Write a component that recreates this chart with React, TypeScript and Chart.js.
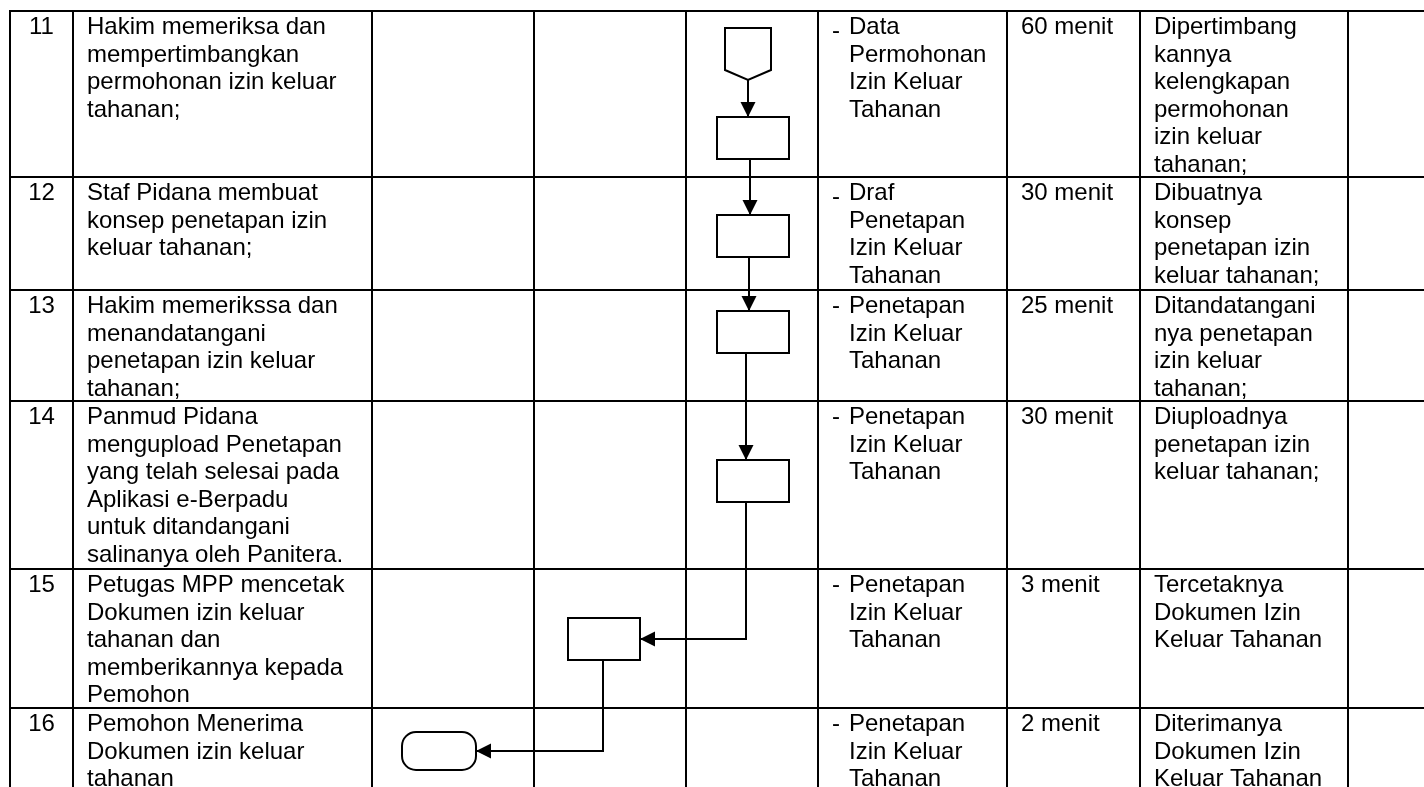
import React, { useEffect, useRef } from "react";
import { Chart, registerables } from "chart.js";

Chart.register(...registerables);

// ---------------- data ----------------
const stepNumbers = ["11", "12", "13", "14", "15", "16"];

const activityLines = [
  ["Hakim memeriksa dan", "mempertimbangkan", "permohonan izin keluar", "tahanan;"],
  ["Staf Pidana membuat", "konsep penetapan izin", "keluar tahanan;"],
  ["Hakim memerikssa dan", "menandatangani", "penetapan izin keluar", "tahanan;"],
  [
    "Panmud Pidana",
    "mengupload Penetapan",
    "yang telah selesai pada",
    "Aplikasi e-Berpadu",
    "untuk ditandangani",
    "salinanya oleh Panitera.",
  ],
  ["Petugas MPP mencetak", "Dokumen izin keluar", "tahanan dan", "memberikannya kepada", "Pemohon"],
  ["Pemohon Menerima", "Dokumen izin keluar", "tahanan"],
];

const requirementLines = [
  ["Data", "Permohonan", "Izin Keluar", "Tahanan"],
  ["Draf", "Penetapan", "Izin Keluar", "Tahanan"],
  ["Penetapan", "Izin Keluar", "Tahanan"],
  ["Penetapan", "Izin Keluar", "Tahanan"],
  ["Penetapan", "Izin Keluar", "Tahanan"],
  ["Penetapan", "Izin Keluar", "Tahanan"],
];

const durationLabels = ["60 menit", "30 menit", "25 menit", "30 menit", "3 menit", "2 menit"];

const outputLines = [
  ["Dipertimbang", "kannya", "kelengkapan", "permohonan", "izin keluar", "tahanan;"],
  ["Dibuatnya", "konsep", "penetapan izin", "keluar tahanan;"],
  ["Ditandatangani", "nya penetapan", "izin keluar", "tahanan;"],
  ["Diuploadnya", "penetapan izin", "keluar tahanan;"],
  ["Tercetaknya", "Dokumen Izin", "Keluar Tahanan"],
  ["Diterimanya", "Dokumen Izin", "Keluar Tahanan"],
];

// flow nodes: which step (row) and which actor lane they belong to
const nodeSteps = [0, 0, 1, 2, 3, 4, 5];
const nodeLanes = [2, 2, 2, 2, 2, 1, 0];
const nodeShapes = ["offpage", "process", "process", "process", "process", "process", "terminator"];
const flowLinks = [
  [0, 1],
  [1, 2],
  [2, 3],
  [3, 4],
  [4, 5],
  [5, 6],
];

// ---------------- layout / style ----------------
const COL_EDGES = [10, 73, 372, 534, 686, 818, 1007, 1140, 1348];
const TABLE_RIGHT = 1440;
const ROW_TOPS = [11, 177, 290, 401, 569, 708];
const TABLE_BOTTOM = 822;
const LANE_COLS = [2, 3, 4];
const NODE_DX = [-4, 1, 1, 1, 1, -6, -14];
const NODE_DY = [43, 127, 59, 42, 80, 70, 43];
const LINK_DX = [0, -3, -4, -7, -7, -1];
const SHAPE_SIZE: Record<string, [number, number]> = {
  offpage: [46, 52],
  process: [72, 42],
  terminator: [74, 38],
};
const BULLET_DROP = [4, 4, 0, 0, 0, 0];
const FONT = "24px 'Liberation Sans', Arial, Helvetica, sans-serif";
const LINE_H = 27.6;
const BASELINE = 23;
const PAD = 14;
const BULLET_INDENT = 31;
const W = 1424;
const H = 787;

function makeShape(kind: string): HTMLCanvasElement {
  const [w, h] = SHAPE_SIZE[kind];
  const c = document.createElement("canvas");
  c.width = w + 4;
  c.height = h + 4;
  const g = c.getContext("2d")!;
  g.translate(2, 2);
  g.lineWidth = 2;
  g.strokeStyle = "#000";
  g.fillStyle = "#fff";
  g.lineJoin = "miter";
  g.beginPath();
  if (kind === "process") {
    g.rect(0, 0, w, h);
  } else if (kind === "offpage") {
    g.moveTo(0, 0);
    g.lineTo(w, 0);
    g.lineTo(w, h - 10);
    g.lineTo(w / 2, h);
    g.lineTo(0, h - 10);
    g.closePath();
  } else {
    const r = 14;
    g.moveTo(r, 0);
    g.lineTo(w - r, 0);
    g.arcTo(w, 0, w, r, r);
    g.lineTo(w, h - r);
    g.arcTo(w, h, w - r, h, r);
    g.lineTo(r, h);
    g.arcTo(0, h, 0, h - r, r);
    g.lineTo(0, r);
    g.arcTo(0, 0, r, 0, r);
    g.closePath();
  }
  g.fill();
  g.stroke();
  return c;
}

export default function App() {
  const ref = useRef<HTMLCanvasElement | null>(null);

  useEffect(() => {
    const canvas = ref.current;
    if (!canvas) return;

    const shapes: Record<string, HTMLCanvasElement> = {
      offpage: makeShape("offpage"),
      process: makeShape("process"),
      terminator: makeShape("terminator"),
    };

    const nodes = nodeSteps.map((step, i) => {
      const col = LANE_COLS[nodeLanes[i]];
      const cx = (COL_EDGES[col] + COL_EDGES[col + 1]) / 2 + NODE_DX[i];
      const cy = ROW_TOPS[step] + NODE_DY[i];
      const [w, h] = SHAPE_SIZE[nodeShapes[i]];
      return { x: cx, y: cy, top: cy - h / 2, bottom: cy + h / 2, right: cx + w / 2, lane: nodeLanes[i] };
    });

    const linkDatasets = flowLinks.map(([a, b], k) => {
      const A = nodes[a];
      const B = nodes[b];
      const x0 = A.x + LINK_DX[k];
      const pts =
        A.lane === B.lane
          ? [
              { x: x0, y: A.bottom },
              { x: x0, y: B.top },
            ]
          : [
              { x: x0, y: A.bottom },
              { x: x0, y: B.y },
              { x: B.right, y: B.y },
            ];
      return {
        label: "link" + k,
        data: pts,
        showLine: true,
        borderColor: "#000",
        borderWidth: 2,
        pointRadius: 0,
        fill: false,
        tension: 0,
        order: 2,
      };
    });

    const nodeDataset = {
      label: "nodes",
      data: nodes.map((n) => ({ x: n.x, y: n.y })),
      pointStyle: nodeShapes.map((s) => shapes[s]),
      pointRadius: 6,
      showLine: false,
      order: 0,
    };

    const tablePlugin = {
      id: "tablePlugin",
      beforeDraw(chart: any) {
        const { ctx } = chart;
        ctx.save();
        ctx.fillStyle = "#fff";
        ctx.fillRect(0, 0, chart.width, chart.height);
        ctx.restore();
      },
      beforeDatasetsDraw(chart: any) {
        const { ctx } = chart;
        const sx = chart.scales.x;
        const sy = chart.scales.y;
        const px = (v: number) => sx.getPixelForValue(v);
        const py = (v: number) => sy.getPixelForValue(v);
        ctx.save();
        ctx.strokeStyle = "#000";
        ctx.lineWidth = 2;
        ctx.lineCap = "butt";
        ctx.beginPath();
        [...ROW_TOPS, TABLE_BOTTOM].forEach((y) => {
          ctx.moveTo(px(COL_EDGES[0]) - 1, py(y));
          ctx.lineTo(px(TABLE_RIGHT), py(y));
        });
        COL_EDGES.forEach((x) => {
          ctx.moveTo(px(x), py(ROW_TOPS[0]) - 1);
          ctx.lineTo(px(x), py(TABLE_BOTTOM));
        });
        ctx.stroke();

        ctx.fillStyle = "#000";
        ctx.font = FONT;
        ctx.textBaseline = "alphabetic";
        stepNumbers.forEach((num, r) => {
          const base = ROW_TOPS[r] + BASELINE;
          ctx.textAlign = "center";
          ctx.fillText(num, px((COL_EDGES[0] + COL_EDGES[1]) / 2), py(base));
          ctx.textAlign = "left";
          activityLines[r].forEach((t, i) => ctx.fillText(t, px(COL_EDGES[1] + PAD), py(base + i * LINE_H)));
          ctx.fillText("-", px(COL_EDGES[5] + PAD), py(base + BULLET_DROP[r]));
          requirementLines[r].forEach((t, i) =>
            ctx.fillText(t, px(COL_EDGES[5] + BULLET_INDENT), py(base + i * LINE_H))
          );
          ctx.fillText(durationLabels[r], px(COL_EDGES[6] + PAD), py(base));
          outputLines[r].forEach((t, i) => ctx.fillText(t, px(COL_EDGES[7] + PAD), py(base + i * LINE_H)));
        });
        ctx.restore();
      },
    };

    const arrowPlugin = {
      id: "arrowPlugin",
      afterDatasetsDraw(chart: any) {
        const { ctx } = chart;
        ctx.save();
        ctx.fillStyle = "#000";
        chart.data.datasets.forEach((ds: any, di: number) => {
          if (!String(ds.label).startsWith("link")) return;
          const meta = chart.getDatasetMeta(di);
          const pts = meta.data;
          if (pts.length < 2) return;
          const p1 = pts[pts.length - 2];
          const p2 = pts[pts.length - 1];
          const ang = Math.atan2(p2.y - p1.y, p2.x - p1.x);
          const len = 15;
          const hw = 7.5;
          const bx = p2.x - Math.cos(ang) * len;
          const by = p2.y - Math.sin(ang) * len;
          ctx.beginPath();
          ctx.moveTo(p2.x, p2.y);
          ctx.lineTo(bx - Math.sin(ang) * hw, by + Math.cos(ang) * hw);
          ctx.lineTo(bx + Math.sin(ang) * hw, by - Math.cos(ang) * hw);
          ctx.closePath();
          ctx.fill();
        });
        ctx.restore();
      },
    };

    const chart = new Chart(canvas, {
      type: "scatter",
      data: { datasets: [nodeDataset as any, ...(linkDatasets as any[])] },
      options: {
        animation: false,
        responsive: false,
        devicePixelRatio: 1,
        events: [],
        layout: { padding: 0, autoPadding: false },
        plugins: {
          legend: { display: false },
          tooltip: { enabled: false },
          title: { display: false },
        },
        scales: {
          x: { type: "linear", min: 0, max: W, display: false },
          y: { type: "linear", min: 0, max: H, reverse: true, display: false },
        },
      },
      plugins: [tablePlugin, arrowPlugin],
    });

    return () => chart.destroy();
  }, []);

  return (
    <canvas
      ref={ref}
      width={W}
      height={H}
      style={{ position: "fixed", left: 0, top: 0, width: W, height: H, display: "block" }}
    />
  );
}
